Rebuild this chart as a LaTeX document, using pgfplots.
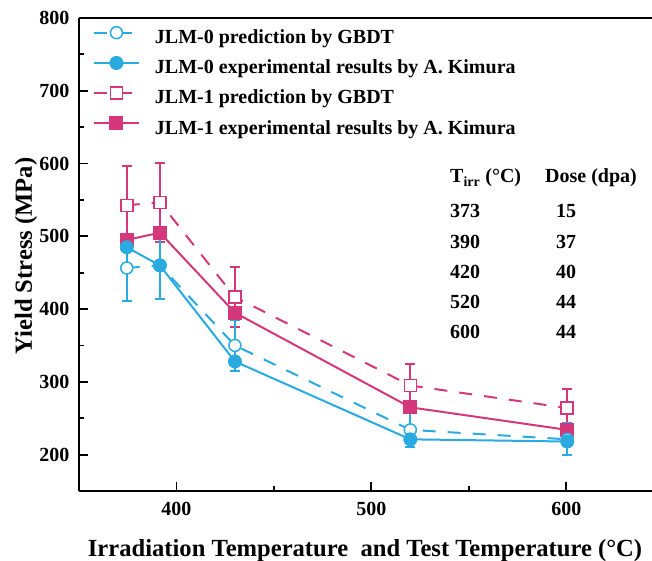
\documentclass[border=0pt]{standalone}
\usepackage{fontspec}
\setmainfont{Liberation Serif}
\usepackage{pgfplots}
\pgfplotsset{compat=1.18}
\definecolor{cblue}{RGB}{41,171,226}
\definecolor{cpink}{RGB}{212,56,122}

\begin{document}
\begin{tikzpicture}
\useasboundingbox (-79pt,-69pt) rectangle (573pt,491pt);
\begin{axis}[
    at={(0pt,0pt)}, anchor=south west,
    scale only axis, width=573pt, height=473pt,
    xmin=350, xmax=644, ymin=150, ymax=800,
    axis x line*=bottom, axis y line*=left,
    axis line style={line width=2pt,-},
    xtick={400,500,600}, ytick={200,300,...,800},
    minor x tick num=1, minor y tick num=1,
    tick align=inside,
    major tick length=9pt, minor tick length=5pt,
    tick style={line width=1.8pt,black},
    ticklabel style={font=\fontsize{20}{24}\selectfont\bfseries},
    /pgf/number format/assume math mode=true,
    xticklabel style={yshift=-8pt},
    yticklabel style={xshift=-6pt},
    legend cell align=left,
    legend style={at={(rel axis cs:0.024,0.982)}, anchor=north west,
        draw=none, fill=none, inner sep=0pt,
        font=\fontsize{20}{24}\selectfont\bfseries,
        nodes={inner sep=0pt, text height=14pt, text depth=4.5pt},
        row sep=9pt,
        /tikz/every odd column/.append style={column sep=15pt}},
    legend image code/.code={
        \draw[#1] (0pt,6pt) -- (45pt,6pt);
        \draw[#1] plot coordinates {(22.5pt,6pt)};
    },
    error bars/error bar style={line width=2pt, solid},
    error bars/error mark options={rotate=90, mark size=5pt, line width=2pt, solid},
]
% legend order
\addlegendimage{cblue, line width=2pt, dash pattern=on 13pt off 12pt, mark=*, mark size=6pt, mark options={solid, fill=white, line width=1.5pt}}
\addlegendentry{JLM-0 prediction by GBDT}
\addlegendimage{cblue, line width=2pt, mark=*, mark size=6pt, mark options={solid, fill=cblue}}
\addlegendentry{JLM-0 experimental results by A. Kimura}
\addlegendimage{cpink, line width=2pt, dash pattern=on 13pt off 12pt, mark=square*, mark size=6pt, mark options={solid, fill=white, line width=1.5pt}}
\addlegendentry{JLM-1 prediction by GBDT}
\addlegendimage{cpink, line width=2pt, mark=square*, mark size=6pt, mark options={solid, fill=cpink}}
\addlegendentry{JLM-1 experimental results by A. Kimura}

% JLM-1 prediction
\addplot[forget plot, cpink, line width=2pt, dash pattern=on 13pt off 12pt,
    mark=square*, mark size=6pt, mark options={solid, fill=white, line width=1.5pt},
    error bars/.cd, y dir=both, y explicit]
    coordinates {
    (374.5,542.6) +- (0,54.5)
    (391.5,546.7) +- (0,54)
    (430,416.5) +- (0,41)
    (520,295) +- (0,30)
    (600.5,264) +- (0,26)
};
% JLM-1 experiment
\addplot[forget plot, cpink, line width=2pt,
    mark=square*, mark size=6pt, mark options={solid, fill=cpink}]
    coordinates {
    (374.5,495) (391.5,505) (430,395) (520,265) (600.5,234)
};
% JLM-0 prediction
\addplot[forget plot, cblue, line width=2pt, dash pattern=on 13pt off 12pt,
    mark=*, mark size=6pt, mark options={solid, fill=white, line width=1.5pt},
    error bars/.cd, y dir=both, y explicit]
    coordinates {
    (374.5,456.5) +- (0,45.5)
    (391.5,460) +- (0,46)
    (430,350) +- (0,35)
    (520,234) +- (0,24)
    (600.5,221) +- (0,22)
};
% JLM-0 experiment
\addplot[forget plot, cblue, line width=2pt,
    mark=*, mark size=6pt, mark options={solid, fill=cblue}]
    coordinates {
    (374.5,485) (391.5,460) (430,328) (520,221) (600.5,218)
};

\draw[line width=2pt] (rel axis cs:0,1) -- (rel axis cs:1,1);
\end{axis}

% axis titles
\node[anchor=base, font=\fontsize{24.6}{28}\selectfont\bfseries]
    at (286pt,-65pt) {Irradiation Temperature\ \ and Test Temperature (°C)};
\node[anchor=base, rotate=90, font=\fontsize{24.6}{28}\selectfont\bfseries]
    at (-47pt,235pt) {Yield Stress (MPa)};

% irradiation table
\begin{scope}[every node/.style={font=\fontsize{20}{24}\selectfont\bfseries, inner sep=0pt}]
\node[anchor=base west] at (371pt,308pt) {T\textsubscript{irr} (°C)};
\node[anchor=base west] at (466pt,308pt) {Dose (dpa)};
\node[anchor=base west] at (371pt,273pt) {373};
\node[anchor=base west] at (371pt,243pt) {390};
\node[anchor=base west] at (371pt,213pt) {420};
\node[anchor=base west] at (371pt,183pt) {520};
\node[anchor=base west] at (371pt,153pt) {600};
\node[anchor=base] at (487pt,273pt) {15};
\node[anchor=base] at (487pt,243pt) {37};
\node[anchor=base] at (487pt,213pt) {40};
\node[anchor=base] at (487pt,183pt) {44};
\node[anchor=base] at (487pt,153pt) {44};
\end{scope}
\end{tikzpicture}
\end{document}
